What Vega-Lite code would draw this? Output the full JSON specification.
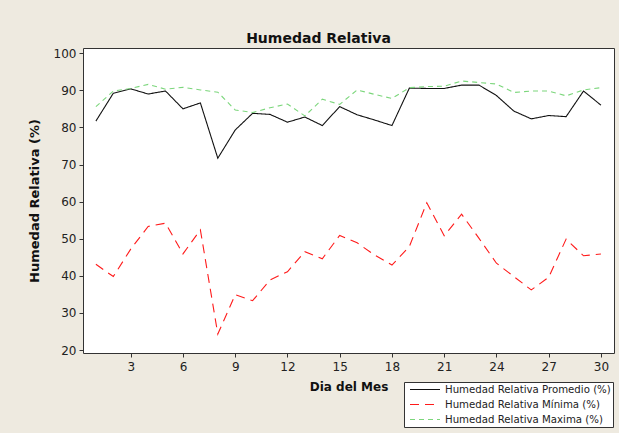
{
  "$schema": "https://vega.github.io/schema/vega-lite/v6.json",
  "autosize": "none",
  "width": 531,
  "height": 305,
  "padding": {"left": 83, "top": 48, "right": 5, "bottom": 80},
  "background": "#EEEAE0",
  "config": {
    "font": "DejaVu Sans",
    "view": {"fill": "white", "stroke": "#333333", "strokeWidth": 1},
    "axis": {"grid": false, "domain": false, "tickColor": "#333333", "tickSize": 4, "labelColor": "#222222", "labelFontSize": 12, "labelFont": "DejaVu Sans", "titleFont": "DejaVu Sans", "titleFontWeight": "bold", "titleColor": "#111111"}
  },
  "title": {"text": "Humedad Relativa", "font": "DejaVu Sans", "fontSize": 14, "fontWeight": "bold", "color": "#111111", "anchor": "middle", "dx": -30, "offset": 1},
  "data": {"values": [
    {"dia":1,"serie":"Humedad Relativa Promedio (%)","valor":81.7},
    {"dia":2,"serie":"Humedad Relativa Promedio (%)","valor":89.2},
    {"dia":3,"serie":"Humedad Relativa Promedio (%)","valor":90.4},
    {"dia":4,"serie":"Humedad Relativa Promedio (%)","valor":89.0},
    {"dia":5,"serie":"Humedad Relativa Promedio (%)","valor":89.8},
    {"dia":6,"serie":"Humedad Relativa Promedio (%)","valor":85.0},
    {"dia":7,"serie":"Humedad Relativa Promedio (%)","valor":86.6},
    {"dia":8,"serie":"Humedad Relativa Promedio (%)","valor":71.7},
    {"dia":9,"serie":"Humedad Relativa Promedio (%)","valor":79.3},
    {"dia":10,"serie":"Humedad Relativa Promedio (%)","valor":83.8},
    {"dia":11,"serie":"Humedad Relativa Promedio (%)","valor":83.5},
    {"dia":12,"serie":"Humedad Relativa Promedio (%)","valor":81.4},
    {"dia":13,"serie":"Humedad Relativa Promedio (%)","valor":82.8},
    {"dia":14,"serie":"Humedad Relativa Promedio (%)","valor":80.5},
    {"dia":15,"serie":"Humedad Relativa Promedio (%)","valor":85.6},
    {"dia":16,"serie":"Humedad Relativa Promedio (%)","valor":83.4},
    {"dia":17,"serie":"Humedad Relativa Promedio (%)","valor":82.0},
    {"dia":18,"serie":"Humedad Relativa Promedio (%)","valor":80.5},
    {"dia":19,"serie":"Humedad Relativa Promedio (%)","valor":90.6},
    {"dia":20,"serie":"Humedad Relativa Promedio (%)","valor":90.5},
    {"dia":21,"serie":"Humedad Relativa Promedio (%)","valor":90.5},
    {"dia":22,"serie":"Humedad Relativa Promedio (%)","valor":91.4},
    {"dia":23,"serie":"Humedad Relativa Promedio (%)","valor":91.4},
    {"dia":24,"serie":"Humedad Relativa Promedio (%)","valor":88.6},
    {"dia":25,"serie":"Humedad Relativa Promedio (%)","valor":84.4},
    {"dia":26,"serie":"Humedad Relativa Promedio (%)","valor":82.3},
    {"dia":27,"serie":"Humedad Relativa Promedio (%)","valor":83.2},
    {"dia":28,"serie":"Humedad Relativa Promedio (%)","valor":82.9},
    {"dia":29,"serie":"Humedad Relativa Promedio (%)","valor":89.8},
    {"dia":30,"serie":"Humedad Relativa Promedio (%)","valor":86.0},
    {"dia":1,"serie":"Humedad Relativa Mínima (%)","valor":43.1},
    {"dia":2,"serie":"Humedad Relativa Mínima (%)","valor":39.8},
    {"dia":3,"serie":"Humedad Relativa Mínima (%)","valor":47.2},
    {"dia":4,"serie":"Humedad Relativa Mínima (%)","valor":53.3},
    {"dia":5,"serie":"Humedad Relativa Mínima (%)","valor":54.2},
    {"dia":6,"serie":"Humedad Relativa Mínima (%)","valor":45.9},
    {"dia":7,"serie":"Humedad Relativa Mínima (%)","valor":52.4},
    {"dia":8,"serie":"Humedad Relativa Mínima (%)","valor":24.3},
    {"dia":9,"serie":"Humedad Relativa Mínima (%)","valor":34.9},
    {"dia":10,"serie":"Humedad Relativa Mínima (%)","valor":33.3},
    {"dia":11,"serie":"Humedad Relativa Mínima (%)","valor":38.9},
    {"dia":12,"serie":"Humedad Relativa Mínima (%)","valor":41.1},
    {"dia":13,"serie":"Humedad Relativa Mínima (%)","valor":46.5},
    {"dia":14,"serie":"Humedad Relativa Mínima (%)","valor":44.6},
    {"dia":15,"serie":"Humedad Relativa Mínima (%)","valor":50.9},
    {"dia":16,"serie":"Humedad Relativa Mínima (%)","valor":48.9},
    {"dia":17,"serie":"Humedad Relativa Mínima (%)","valor":45.6},
    {"dia":18,"serie":"Humedad Relativa Mínima (%)","valor":42.9},
    {"dia":19,"serie":"Humedad Relativa Mínima (%)","valor":47.9},
    {"dia":20,"serie":"Humedad Relativa Mínima (%)","valor":59.7},
    {"dia":21,"serie":"Humedad Relativa Mínima (%)","valor":50.8},
    {"dia":22,"serie":"Humedad Relativa Mínima (%)","valor":56.6},
    {"dia":23,"serie":"Humedad Relativa Mínima (%)","valor":50.1},
    {"dia":24,"serie":"Humedad Relativa Mínima (%)","valor":43.4},
    {"dia":25,"serie":"Humedad Relativa Mínima (%)","valor":39.8},
    {"dia":26,"serie":"Humedad Relativa Mínima (%)","valor":36.2},
    {"dia":27,"serie":"Humedad Relativa Mínima (%)","valor":39.6},
    {"dia":28,"serie":"Humedad Relativa Mínima (%)","valor":49.9},
    {"dia":29,"serie":"Humedad Relativa Mínima (%)","valor":45.4},
    {"dia":30,"serie":"Humedad Relativa Mínima (%)","valor":45.9},
    {"dia":1,"serie":"Humedad Relativa Maxima (%)","valor":85.6},
    {"dia":2,"serie":"Humedad Relativa Maxima (%)","valor":89.8},
    {"dia":3,"serie":"Humedad Relativa Maxima (%)","valor":90.5},
    {"dia":4,"serie":"Humedad Relativa Maxima (%)","valor":91.6},
    {"dia":5,"serie":"Humedad Relativa Maxima (%)","valor":90.3},
    {"dia":6,"serie":"Humedad Relativa Maxima (%)","valor":90.8},
    {"dia":7,"serie":"Humedad Relativa Maxima (%)","valor":90.1},
    {"dia":8,"serie":"Humedad Relativa Maxima (%)","valor":89.5},
    {"dia":9,"serie":"Humedad Relativa Maxima (%)","valor":84.7},
    {"dia":10,"serie":"Humedad Relativa Maxima (%)","valor":84.0},
    {"dia":11,"serie":"Humedad Relativa Maxima (%)","valor":85.3},
    {"dia":12,"serie":"Humedad Relativa Maxima (%)","valor":86.3},
    {"dia":13,"serie":"Humedad Relativa Maxima (%)","valor":83.1},
    {"dia":14,"serie":"Humedad Relativa Maxima (%)","valor":87.6},
    {"dia":15,"serie":"Humedad Relativa Maxima (%)","valor":86.2},
    {"dia":16,"serie":"Humedad Relativa Maxima (%)","valor":90.1},
    {"dia":17,"serie":"Humedad Relativa Maxima (%)","valor":88.9},
    {"dia":18,"serie":"Humedad Relativa Maxima (%)","valor":87.8},
    {"dia":19,"serie":"Humedad Relativa Maxima (%)","valor":90.7},
    {"dia":20,"serie":"Humedad Relativa Maxima (%)","valor":91.0},
    {"dia":21,"serie":"Humedad Relativa Maxima (%)","valor":91.1},
    {"dia":22,"serie":"Humedad Relativa Maxima (%)","valor":92.5},
    {"dia":23,"serie":"Humedad Relativa Maxima (%)","valor":92.1},
    {"dia":24,"serie":"Humedad Relativa Maxima (%)","valor":91.7},
    {"dia":25,"serie":"Humedad Relativa Maxima (%)","valor":89.4},
    {"dia":26,"serie":"Humedad Relativa Maxima (%)","valor":89.8},
    {"dia":27,"serie":"Humedad Relativa Maxima (%)","valor":89.8},
    {"dia":28,"serie":"Humedad Relativa Maxima (%)","valor":88.5},
    {"dia":29,"serie":"Humedad Relativa Maxima (%)","valor":90.1},
    {"dia":30,"serie":"Humedad Relativa Maxima (%)","valor":90.7}
  ]},
  "mark": {"type": "line", "strokeWidth": 1.1, "clip": true},
  "encoding": {
    "x": {"field": "dia", "type": "quantitative", "title": "Dia del Mes",
      "scale": {"domain": [0.26, 30.75], "nice": false, "zero": false},
      "axis": {"values": [3,6,9,12,15,18,21,24,27,30], "labelPadding": 4, "titleFontSize": 12, "titlePadding": 9}},
    "y": {"field": "valor", "type": "quantitative", "title": "Humedad Relativa (%)",
      "scale": {"domain": [19.2, 101.4], "nice": false, "zero": false},
      "axis": {"values": [20,30,40,50,60,70,80,90,100], "labelPadding": 3, "titleFontSize": 13, "titlePadding": 12}},
    "color": {"field": "serie", "type": "nominal",
      "scale": {"domain": ["Humedad Relativa Promedio (%)", "Humedad Relativa Mínima (%)", "Humedad Relativa Maxima (%)"], "range": ["#111111", "#FF1A1A", "#7CD67C"]},
      "legend": {"title": null, "orient": "none", "legendX": 321, "legendY": 334, "direction": "vertical",
        "fillColor": "white", "strokeColor": "#333333", "padding": 1.5, "symbolType": "M-0.3,0H5.7", "symbolSize": 100,
        "symbolStrokeWidth": 1.2, "labelFontSize": 10.2, "labelLimit": 300, "labelColor": "#222222", "labelOffset": 27.5, "rowPadding": 3}},
    "strokeDash": {"field": "serie", "type": "nominal",
      "scale": {"domain": ["Humedad Relativa Promedio (%)", "Humedad Relativa Mínima (%)", "Humedad Relativa Maxima (%)"], "range": [[1,0], [9,6], [5,4]]},
      "legend": {"title": null, "orient": "none", "legendX": 321, "legendY": 334, "direction": "vertical",
        "fillColor": "white", "strokeColor": "#333333", "padding": 1.5, "symbolType": "M-0.3,0H5.7", "symbolSize": 100,
        "symbolStrokeWidth": 1.2, "labelFontSize": 10.2, "labelLimit": 300, "labelColor": "#222222", "labelOffset": 27.5, "rowPadding": 3}}
  }
}
